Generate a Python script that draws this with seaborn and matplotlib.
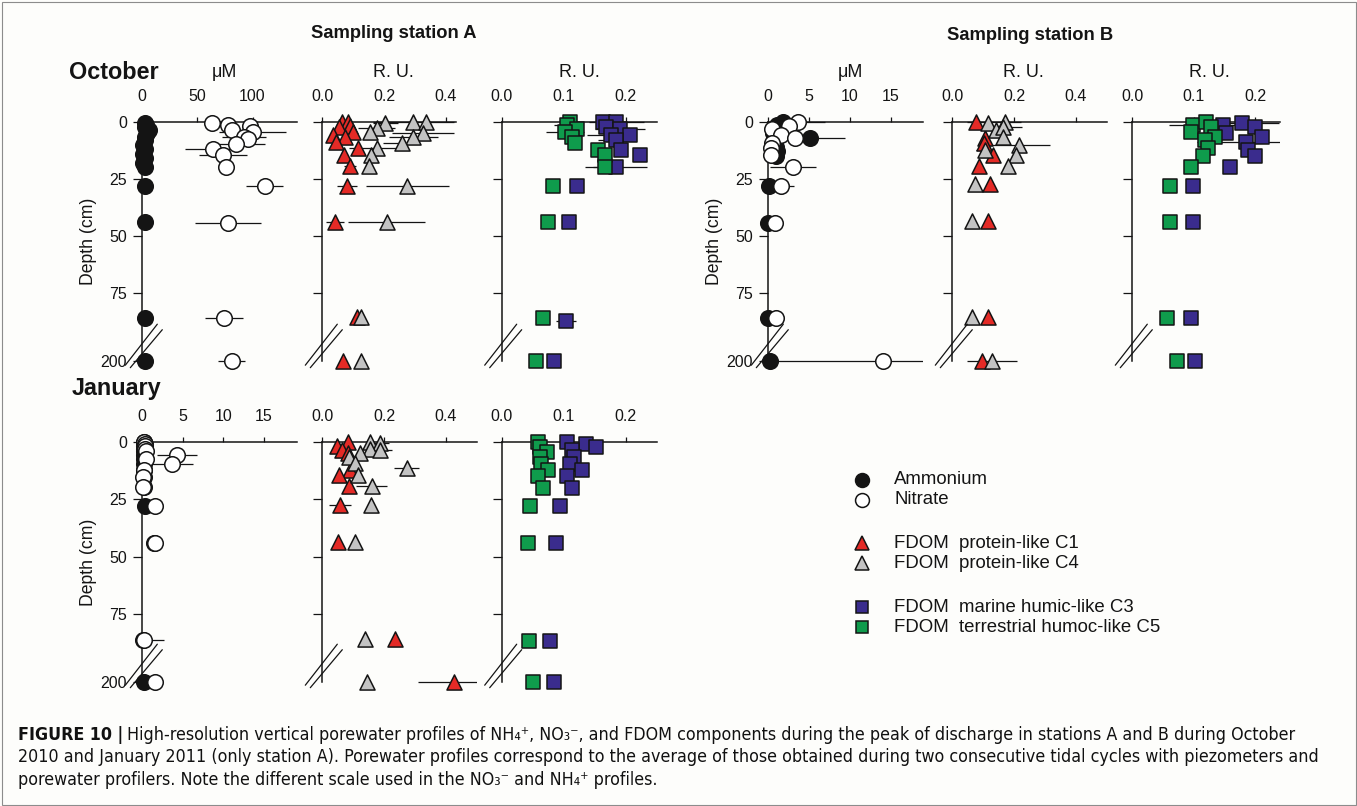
import numpy as np
import pandas as pd
import matplotlib
matplotlib.use("Agg")
import matplotlib.pyplot as plt
import seaborn as sns
from matplotlib.lines import Line2D
from matplotlib.patches import Rectangle
from matplotlib.transforms import Bbox, TransformedBbox

# ---------------- data (depth in cm, concentrations / R.U.) ----------------
# Station A, October
a_oct_amm_depth = [0.5, 1.5, 2.5, 3.5, 5, 6.5, 8, 10, 12, 14, 16, 18, 20, 28, 44, 86, 200]
a_oct_amm_val = [2, 3, 2, 6, 4, 2, 2, 1, 2, 1, 2, 1, 2, 2, 2, 2, 2]
a_oct_nit_depth = [0.5, 1.5, 2, 3.6, 4.3, 6.8, 7.5, 9.8, 12.1, 14.6, 19.7, 28, 44.3, 86, 200]
a_oct_nit_val = [63, 78, 98, 81, 100, 92, 96, 85, 64, 73, 76, 111, 78, 74, 81]
a_oct_nit_err = [0, 0, 0, 0, 30, 20, 0, 26, 25, 22, 0, 17, 30, 17, 12]

a_oct_c1_depth = [0, 0, 1.9, 2.2, 4.4, 5.8, 6.6, 8.8, 11.7, 14.6, 19.3, 28, 44, 85.6, 200]
a_oct_c1_val = [0.063, 0.084, 0.089, 0.055, 0.100, 0.036, 0.073, 0.045, 0.116, 0.070, 0.090, 0.079, 0.041, 0.111, 0.066]
a_oct_c1_err = [0, 0, 0, 0, 0, 0, 0, 0, 0, 0, 0.02, 0.032, 0.03, 0, 0]
a_oct_c4_depth = [0.7, 2.9, 4.4, 0, 0, 5.1, 6.6, 9.5, 11.7, 14.6, 19.3, 28, 44, 85.6, 200]
a_oct_c4_val = [0.204, 0.176, 0.155, 0.295, 0.336, 0.325, 0.295, 0.257, 0.178, 0.157, 0.152, 0.275, 0.209, 0.125, 0.125]
a_oct_c4_err = [0.04, 0.06, 0, 0.13, 0, 0.10, 0.08, 0.06, 0.09, 0, 0, 0.135, 0.125, 0, 0]

a_oct_c3_depth = [0, 0, 2.2, 3.3, 5.8, 5.8, 8, 12.4, 14.6, 19.7, 28, 44, 87, 200]
a_oct_c3_val = [0.163, 0.185, 0.169, 0.191, 0.177, 0.207, 0.185, 0.193, 0.223, 0.185, 0.122, 0.109, 0.104, 0.085]
a_oct_c3_err = [0, 0.045, 0, 0.04, 0.04, 0, 0.03, 0, 0, 0.05, 0, 0, 0.016, 0]
a_oct_c5_depth = [0, 1.5, 3, 4.4, 6.6, 9.5, 12.4, 14.6, 19.7, 28, 44, 86, 200]
a_oct_c5_val = [0.110, 0.105, 0.121, 0.102, 0.113, 0.118, 0.156, 0.167, 0.167, 0.083, 0.075, 0.067, 0.056]
a_oct_c5_err = [0, 0.02, 0, 0.03, 0, 0, 0, 0, 0.02, 0, 0, 0, 0]

# Station B, October
b_oct_amm_depth = [0, 1.5, 3, 5, 7.3, 9, 11, 13, 15, 28, 44.5, 86, 200]
b_oct_amm_val = [1.8, 1.1, 0.8, 0.6, 5.1, 0.8, 1.0, 1.1, 1.0, 0.1, 0.0, 0.0, 0.2]
b_oct_amm_err = [0, 0, 0, 0, 4.3, 0, 0, 0, 0, 0, 0, 0, 0]
b_oct_nit_depth = [0, 2, 3, 5.8, 7.3, 9.5, 11.7, 14.6, 20, 28, 44.5, 86, 200]
b_oct_nit_val = [3.7, 2.5, 0.5, 1.5, 3.3, 0.5, 0.3, 0.3, 3.0, 1.6, 0.8, 0.9, 14.0]
b_oct_nit_err = [3.3, 0, 0, 0, 0, 0, 0, 0, 2.8, 1.5, 0, 0, 14.0]

b_oct_c1_depth = [0, 7.3, 9.5, 14.6, 19.3, 27.3, 43.5, 85.6, 200]
b_oct_c1_val = [0.077, 0.106, 0.102, 0.131, 0.088, 0.122, 0.115, 0.115, 0.095]
b_oct_c1_err = [0.03, 0, 0, 0, 0, 0, 0, 0, 0]
b_oct_c4_depth = [0.7, 0, 3.6, 2.2, 6.6, 12.4, 10.2, 14.6, 19.3, 27.3, 43.5, 85.6, 200]
b_oct_c4_val = [0.117, 0.171, 0.141, 0.165, 0.165, 0.106, 0.216, 0.206, 0.181, 0.074, 0.063, 0.063, 0.128]
b_oct_c4_err = [0, 0.05, 0, 0.06, 0, 0.03, 0.10, 0, 0, 0, 0, 0, 0.08]

b_oct_c3_depth = [1.5, 0.7, 4.8, 2.5, 6.6, 8.8, 12.4, 15, 20, 28, 44, 86, 200]
b_oct_c3_val = [0.148, 0.179, 0.153, 0.199, 0.211, 0.185, 0.188, 0.200, 0.158, 0.099, 0.099, 0.095, 0.102]
b_oct_c3_err = [0.03, 0.06, 0, 0, 0, 0.08, 0, 0, 0, 0, 0, 0, 0]
b_oct_c5_depth = [1.5, 0, 2.2, 4.4, 6.6, 8, 11.7, 15, 20, 28, 44, 86, 200]
b_oct_c5_val = [0.099, 0.120, 0.128, 0.096, 0.134, 0.118, 0.123, 0.115, 0.095, 0.062, 0.061, 0.056, 0.072]
b_oct_c5_err = [0.04, 0, 0, 0, 0, 0, 0, 0, 0, 0, 0, 0, 0]

# Station A, January
a_jan_amm_depth = [0, 1, 2, 3, 4, 5.8, 7.3, 9.8, 12.3, 15.2, 19.6, 28, 44, 86, 200]
a_jan_amm_val = [0.2, 0.2, 0.2, 0.2, 0.2, 0.2, 0.2, 0.2, 0.2, 0.2, 0.2, 0.3, 1.4, 0.1, 0.2]
a_jan_nit_depth = [0, 1, 2, 3, 4, 5.8, 7.3, 9.8, 12.3, 15.2, 19.6, 28, 44, 86, 200]
a_jan_nit_val = [0.2, 0.3, 0.3, 0.3, 0.4, 4.3, 0.4, 3.6, 0.2, 0.1, 0.1, 1.6, 1.6, 0.2, 1.6]
a_jan_nit_err = [0, 0, 0, 0, 0, 2.5, 0, 2.7, 0, 0, 0, 0, 0, 2.5, 0]

a_jan_c1_depth = [0, 1.9, 3.6, 5.1, 12.3, 14.6, 19.4, 27.7, 43.7, 85.9, 200]
a_jan_c1_val = [0.084, 0.047, 0.063, 0.084, 0.090, 0.055, 0.087, 0.057, 0.052, 0.236, 0.425]
a_jan_c1_err = [0, 0, 0, 0, 0, 0, 0, 0.035, 0, 0, 0.115]
a_jan_c4_depth = [0, 0.4, 3.2, 3.6, 5.1, 6.8, 9.1, 11.6, 14.6, 19.4, 27.7, 43.7, 85.9, 200]
a_jan_c4_val = [0.155, 0.187, 0.155, 0.187, 0.122, 0.088, 0.106, 0.273, 0.117, 0.160, 0.157, 0.106, 0.138, 0.144]
a_jan_c4_err = [0, 0.03, 0, 0.04, 0, 0, 0, 0.04, 0, 0.05, 0, 0, 0, 0]

a_jan_c3_depth = [0, 1, 2.5, 3.6, 6.8, 9.7, 12.4, 15, 19.9, 28, 44, 86.6, 200]
a_jan_c3_val = [0.106, 0.136, 0.152, 0.113, 0.116, 0.110, 0.129, 0.105, 0.113, 0.094, 0.088, 0.078, 0.084]
a_jan_c5_depth = [0, 2.2, 4.4, 6.6, 9.7, 12.4, 15, 19.9, 28, 44, 86.6, 200]
a_jan_c5_val = [0.059, 0.062, 0.073, 0.062, 0.063, 0.074, 0.059, 0.066, 0.046, 0.043, 0.044, 0.050]

nut_ticks_a_oct = [0, 50, 100]
nut_ticks_small = [0, 5, 10, 15]
prot_ticks = [0.0, 0.2, 0.4]
humic_ticks = [0.0, 0.1, 0.2]
depth_ticks = [0, 25, 50, 75, 200]

legend_labels = ["Ammonium", "Nitrate", "FDOM  protein-like C1", "FDOM  protein-like C4",
                 "FDOM  marine humic-like C3", "FDOM  terrestrial humoc-like C5"]

# ---------------- style ----------------
sns.set_theme(style="white")
plt.rcParams["font.family"] = ["Liberation Sans", "DejaVu Sans"]
INK = "#141414"
C_RED = "#e42a26"
C_GREY = "#c3c3c3"
C_PURPLE = "#3a2c8d"
C_GREEN = "#0f9b4c"
BG = "#fdfdfb"

W, H = 1357, 806
fig = plt.figure(figsize=(W / 100, H / 100), dpi=100)
fig.patch.set_facecolor(BG)


def fwd(d):
    d = np.asarray(d, dtype=float)
    return np.where(d <= 90, d, 90 + (d - 90) * (14.5 / 110))


def inv(y):
    y = np.asarray(y, dtype=float)
    return np.where(y <= 90, y, 90 + (y - 90) * (110 / 14.5))


def make_ax(x0, x1, y0, y1, xmax, xticks, xfmt, ylabels):
    ax = fig.add_axes([x0 / W, 1 - y1 / H, (x1 - x0) / W, (y1 - y0) / H])
    ax.set_facecolor("none")
    ax.set_yscale("function", functions=(fwd, inv))
    return ax, (x0, y0, xmax, xticks, xfmt, ylabels)


def finish_ax(ax, spec):
    x0, y0, xmax, xticks, xfmt, ylabels = spec
    ax.set_xlim(0, xmax)
    ax.set_ylim(200, 0)
    for s in ["right", "bottom"]:
        ax.spines[s].set_visible(False)
    for s in ["left", "top"]:
        ax.spines[s].set_linewidth(1.1)
        ax.spines[s].set_color(INK)
    ax.xaxis.tick_top()
    ax.set_xticks(xticks)
    ax.set_xticklabels([xfmt.format(t) for t in xticks])
    ax.set_yticks(depth_ticks if ylabels else [0, 25, 50, 75])
    ax.set_yticklabels(["0", "25", "50", "75", "200"] if ylabels else [])
    ax.tick_params(axis="x", top=True, bottom=False, labeltop=True, labelbottom=False,
                   direction="out", length=3.6, width=0.9, pad=9, labelsize=11.5,
                   colors=INK)
    ax.tick_params(axis="y", left=True, right=False, direction="out", length=6.5,
                   width=0.9, pad=4.5, labelsize=11.5, colors=INK, labelleft=ylabels)
    ax.set_xlabel("")
    ax.set_ylabel("")
    ax.grid(False)
    if ylabels:
        ax.set_ylabel("Depth (cm)", fontsize=12.7, color=INK)
        ax.yaxis.set_label_coords(-0.29, 0.5)
    # axis-break marks
    for (ax0, ay0, ax1_, ay1) in [(-17, 243.5, 15, 202.5), (-12, 246, 20, 208)]:
        fig.add_artist(Line2D([(x0 + ax0) / W, (x0 + ax1_) / W],
                              [1 - (y0 + ay0) / H, 1 - (y0 + ay1) / H],
                              color=INK, lw=0.9))


def plot_series(ax, vals, depths, errs, marker, color, size):
    df = pd.DataFrame({"value": vals, "depth": depths})
    if errs is not None:
        cont = ax.errorbar(vals, depths, xerr=errs, fmt="none", ecolor=INK,
                           elinewidth=0.9, capsize=0, zorder=2)
        clip = TransformedBbox(Bbox([[0, -0.05], [1, 1.05]]), ax.transAxes)
        for coll in cont.lines[2]:
            coll.set_clip_box(clip)
    sns.scatterplot(data=df, x="value", y="depth", ax=ax, marker=marker, color=color,
                    s=size, edgecolor=INK, linewidth=1.1, clip_on=False, zorder=3,
                    legend=False)


def unit_label(ax, frac, text):
    ax.text(frac, 1.205, text, transform=ax.transAxes, ha="center", va="center",
            fontsize=13, color=INK)


S_CIRC, S_TRI, S_SQ = 125, 118, 88
OCT = (121.7, 360.7)
JAN = (441.7, 682.3)

# October, station A
ax, sp = make_ax(142.3, 297.3, *OCT, 140.6, nut_ticks_a_oct, "{:g}", True)
plot_series(ax, a_oct_amm_val, a_oct_amm_depth, None, "o", INK, S_CIRC)
plot_series(ax, a_oct_nit_val, a_oct_nit_depth, a_oct_nit_err, "o", "white", S_CIRC)
finish_ax(ax, sp)
unit_label(ax, 0.53, "μM")
ax.text(-0.47, 1.205, "October", transform=ax.transAxes, ha="left", va="center",
        fontsize=16.8, fontweight="bold", color=INK)

ax, sp = make_ax(322.3, 455.7, *OCT, 0.432, prot_ticks, "{:.1f}", False)
plot_series(ax, a_oct_c1_val, a_oct_c1_depth, a_oct_c1_err, "^", C_RED, S_TRI)
plot_series(ax, a_oct_c4_val, a_oct_c4_depth, a_oct_c4_err, "^", C_GREY, S_TRI)
finish_ax(ax, sp)
unit_label(ax, 0.53, "R. U.")

ax, sp = make_ax(501.7, 656.7, *OCT, 0.25, humic_ticks, "{:.1f}", False)
plot_series(ax, a_oct_c3_val, a_oct_c3_depth, a_oct_c3_err, "s", C_PURPLE, S_SQ)
plot_series(ax, a_oct_c5_val, a_oct_c5_depth, a_oct_c5_err, "s", C_GREEN, S_SQ)
finish_ax(ax, sp)
unit_label(ax, 0.5, "R. U.")

# October, station B
ax, sp = make_ax(768.3, 923.3, *OCT, 19.0, nut_ticks_small, "{:g}", True)
plot_series(ax, b_oct_amm_val, b_oct_amm_depth, b_oct_amm_err, "o", INK, S_CIRC)
plot_series(ax, b_oct_nit_val, b_oct_nit_depth, b_oct_nit_err, "o", "white", S_CIRC)
finish_ax(ax, sp)
unit_label(ax, 0.53, "μM")

ax, sp = make_ax(952.3, 1106.7, *OCT, 0.5, prot_ticks, "{:.1f}", False)
plot_series(ax, b_oct_c1_val, b_oct_c1_depth, b_oct_c1_err, "^", C_RED, S_TRI)
plot_series(ax, b_oct_c4_val, b_oct_c4_depth, b_oct_c4_err, "^", C_GREY, S_TRI)
finish_ax(ax, sp)
unit_label(ax, 0.46, "R. U.")

ax, sp = make_ax(1132.3, 1280.0, *OCT, 0.24, humic_ticks, "{:.1f}", False)
plot_series(ax, b_oct_c3_val, b_oct_c3_depth, b_oct_c3_err, "s", C_PURPLE, S_SQ)
plot_series(ax, b_oct_c5_val, b_oct_c5_depth, b_oct_c5_err, "s", C_GREEN, S_SQ)
finish_ax(ax, sp)
unit_label(ax, 0.52, "R. U.")

# January, station A
ax, sp = make_ax(142.3, 297.3, *JAN, 19.1, nut_ticks_small, "{:g}", True)
plot_series(ax, a_jan_amm_val, a_jan_amm_depth, None, "o", INK, S_CIRC)
plot_series(ax, a_jan_nit_val, a_jan_nit_depth, a_jan_nit_err, "o", "white", S_CIRC)
finish_ax(ax, sp)
ax.text(-0.455, 1.22, "January", transform=ax.transAxes, ha="left", va="center",
        fontsize=16.8, fontweight="bold", color=INK)

ax, sp = make_ax(322.3, 476.7, *JAN, 0.5, prot_ticks, "{:.1f}", False)
plot_series(ax, a_jan_c1_val, a_jan_c1_depth, a_jan_c1_err, "^", C_RED, S_TRI)
plot_series(ax, a_jan_c4_val, a_jan_c4_depth, a_jan_c4_err, "^", C_GREY, S_TRI)
finish_ax(ax, sp)

ax, sp = make_ax(501.7, 656.7, *JAN, 0.25, humic_ticks, "{:.1f}", False)
plot_series(ax, a_jan_c3_val, a_jan_c3_depth, None, "s", C_PURPLE, S_SQ)
plot_series(ax, a_jan_c5_val, a_jan_c5_depth, None, "s", C_GREEN, S_SQ)
finish_ax(ax, sp)

# station titles
fig.text(394 / W, 1 - 33 / H, "Sampling station A", ha="center", va="center",
         fontsize=13.2, fontweight="bold", color=INK)
fig.text(1030 / W, 1 - 36 / H, "Sampling station B", ha="center", va="center",
         fontsize=13.2, fontweight="bold", color=INK)

# legend (manual, figure overlay)
leg_specs = [("o", INK, 10.0), ("o", "white", 10.0), ("^", C_RED, 9.5), ("^", C_GREY, 9.5),
             ("s", C_PURPLE, 8.0), ("s", C_GREEN, 8.0)]
leg_rows = [480, 500, 543, 563, 607, 627]
for (m, c, ms), lab, yy in zip(leg_specs, legend_labels, leg_rows):
    fig.add_artist(Line2D([862 / W], [1 - yy / H], marker=m, markersize=ms, markerfacecolor=c,
                          markeredgecolor=INK, markeredgewidth=1.1, linestyle="none"))
    fig.text(894 / W, 1 - yy / H, lab, ha="left", va="center", fontsize=13.4, color=INK)

# caption
cap_kw = dict(ha="left", va="center", fontsize=12.8, family="DejaVu Sans",
              fontstretch="condensed", color="#111111")
renderer = fig.canvas.get_renderer()
t0 = fig.text(18 / W, 1 - 735 / H, "FIGURE 10 |", fontweight="bold", **cap_kw)
bb = t0.get_window_extent(renderer)
fig.text((bb.x1 + 4) / W, 1 - 735 / H,
         "High-resolution vertical porewater profiles of NH₄⁺, NO₃⁻, and FDOM components during the peak of discharge in stations A and B during October",
         **cap_kw)
fig.text(18 / W, 1 - 757 / H,
         "2010 and January 2011 (only station A). Porewater profiles correspond to the average of those obtained during two consecutive tidal cycles with piezometers and",
         **cap_kw)
fig.text(18 / W, 1 - 780 / H,
         "porewater profilers. Note the different scale used in the NO₃⁻ and NH₄⁺ profiles.",
         **cap_kw)

# frame
fig.add_artist(Rectangle((1.5 / W, 1.5 / H), (W - 3) / W, (H - 3) / H, transform=fig.transFigure,
                         fill=False, edgecolor="#8c8c8c", lw=0.8))

fig.savefig("out.png", dpi=100, facecolor=BG)
